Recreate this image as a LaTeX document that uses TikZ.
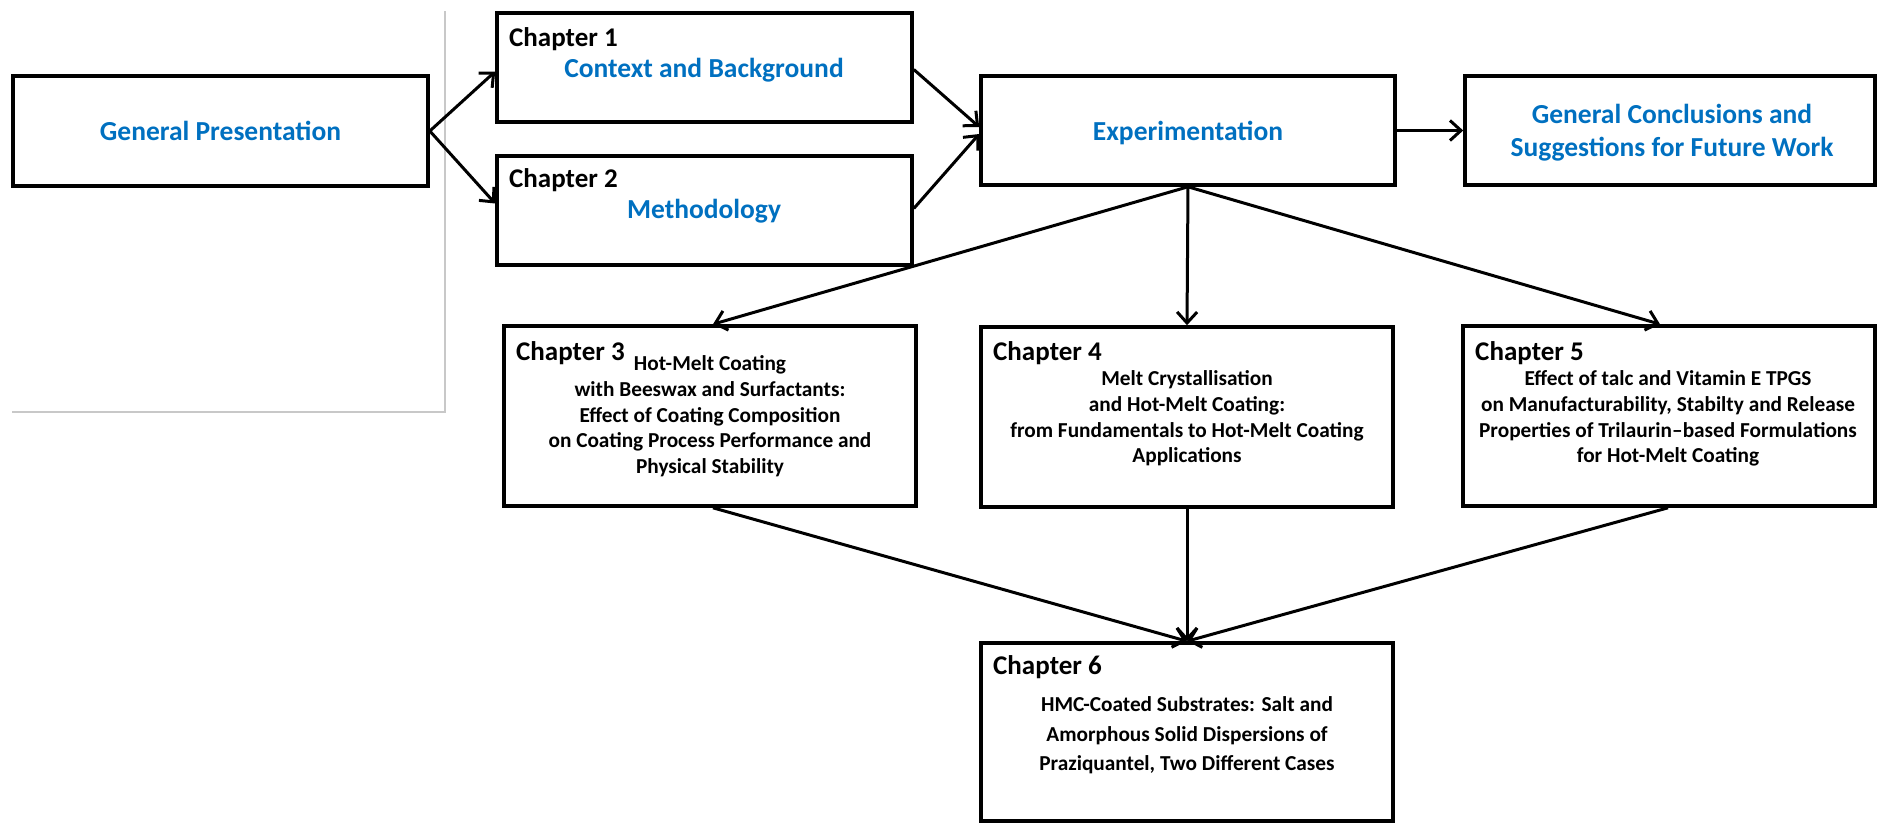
\documentclass[tikz,border=0pt]{standalone}
\usepackage{fontspec}
\setmainfont{Carlito}
\usetikzlibrary{arrows.meta}
\definecolor{headblue}{HTML}{0070C0}
\definecolor{framegray}{HTML}{C8C8C8}
\begin{document}
\begin{tikzpicture}[x=1pt,y=-1pt,
  box/.style={draw=black, line width=3.6pt, rectangle, inner sep=0pt},
  widebox/.style={box, minimum width=414pt, minimum height=109pt},
  tallbox/.style={box, minimum width=412pt, minimum height=180pt},
  heading/.style={text=headblue, font=\fontsize{27.5}{32.7}\selectfont\bfseries,
    inner sep=0pt, anchor=base, align=center},
  chaplabel/.style={font=\fontsize{27}{32}\selectfont\bfseries,
    inner sep=0pt, anchor=base west},
  body/.style={font=\fontsize{21.3}{25.6}\selectfont\bfseries,
    inner sep=0pt, anchor=base, align=center},
  link/.style={line width=3pt, -{Straight Barb[length=11pt,width=20pt]}},
]
\useasboundingbox (0,0) rectangle (1879,823);

% thin grey frame on the left
\coordinate (f1) at (445,11);
\coordinate (f2) at (445,412);
\coordinate (f3) at (12,412);
\draw[framegray, line width=1.2pt] (f1) -- (f2) -- (f3);

% boxes
\node[widebox, minimum width=415pt, minimum height=110pt] (gp) at (220.5,131) {};
\node[widebox, minimum width=415pt] (ch1) at (704.5,67.5) {};
\node[widebox, minimum width=415pt] (ch2) at (704.5,210.5) {};
\node[widebox] (exp) at (1188,130.5) {};
\node[widebox, minimum width=410pt] (conc) at (1670,130.5) {};
\node[tallbox] (ch3) at (710,416) {};
\node[tallbox] (ch4) at (1187,417) {};
\node[tallbox] (ch5) at (1669,416) {};
\node[tallbox, minimum height=178pt] (ch6) at (1187,732) {};

% headings (a multi-line node sits on the baseline of its last line)
\node[heading] (gptext) at (220.5,140) {General Presentation};
\node[chaplabel] (ch1lab) at (509,46.5) {Chapter 1};
\node[heading] (ch1text) at (704,77) {Context and Background};
\node[chaplabel] (ch2lab) at (509,187) {Chapter 2};
\node[heading] (ch2text) at (704,218) {Methodology};
\node[heading] (exptext) at (1188,140) {Experimentation};
\node[heading] (conctext) at (1672,156) {General Conclusions and\\Suggestions for Future Work};

% chapter boxes of the experimental part
\node[chaplabel] (ch3lab) at (516,360) {Chapter 3};
\node[body] (ch3text) at (710,473.3) {Hot-Melt Coating\\with Beeswax and Surfactants:\\Effect of Coating Composition\\on Coating Process Performance and\\Physical Stability};
\node[chaplabel] (ch4lab) at (993,360) {Chapter 4};
\node[body] (ch4text) at (1187,462.7) {Melt Crystallisation\\and Hot-Melt Coating:\\from Fundamentals to Hot-Melt Coating\\Applications};
\node[chaplabel] (ch5lab) at (1475,360) {Chapter 5};
\node[body] (ch5text) at (1668,462.7) {Effect of talc and Vitamin E TPGS\\on Manufacturability, Stabilty and Release\\Properties of Trilaurin--based Formulations\\for Hot-Melt Coating};
\node[chaplabel] (ch6lab) at (993,674) {Chapter 6};
\node[body, font=\fontsize{21.3}{29.5}\selectfont\bfseries] (ch6text) at (1187,770.7) {HMC-Coated Substrates: Salt and\\Amorphous Solid Dispersions of\\Praziquantel, Two Different Cases};

% connectors
\draw[link] (gp.east) -- ([yshift=-4pt]ch1.west);
\draw[link] (gp.east) -- ([yshift=7pt]ch2.west);
\draw[link] ([yshift=-2pt]ch1.east) -- ([yshift=3.5pt]exp.west);
\draw[link] ([yshift=2pt]ch2.east) -- ([yshift=-3.5pt]exp.west);
\draw[link] (exp.east) -- (conc.west);
\draw[link] (exp.south) -- ([xshift=3pt]ch3.north);
\draw[link] (exp.south) -- (ch4.north);
\draw[link] (exp.south) -- ([xshift=-9pt]ch5.north);
\draw[link] ([xshift=3pt]ch3.south) -- (ch6.north);
\draw[link] (ch4.south) -- (ch6.north);
\draw[link] ([xshift=-1pt]ch5.south) -- (ch6.north);
\end{tikzpicture}
\end{document}
